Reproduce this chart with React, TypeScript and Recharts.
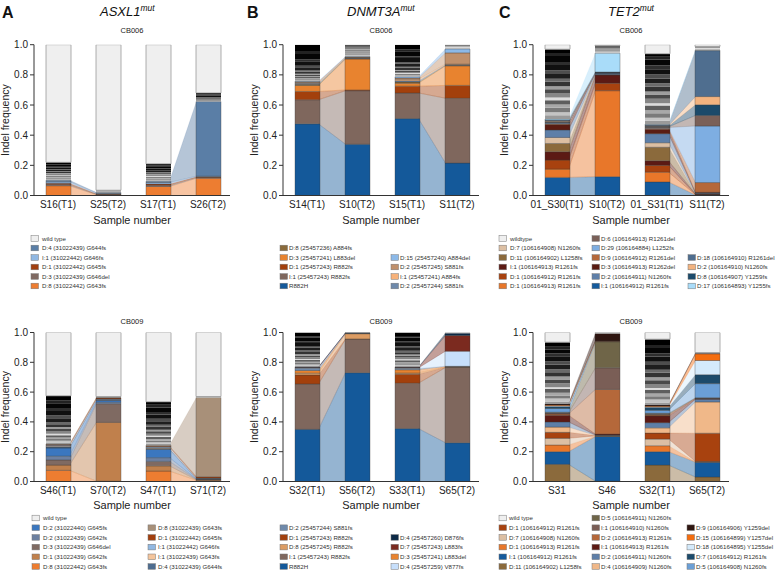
import React from "react";
import { ComposedChart, Bar, Area, XAxis, YAxis } from "recharts";

const FONT = '"Liberation Sans", Arial, Helvetica, sans-serif';

/* ---------- A: ASXL1, CB006 (stack order bottom -> top) ---------- */
const A1_SAMPLES = ["S16(T1)", "S25(T2)", "S17(T1)", "S26(T2)"];
const A1_LABELS = [
  "D:8 (31022442) G643fs",
  "D:3 (31022439) G646del",
  "D:1 (31022442) G645fs",
  "I:1  (31022442) G646fs",
  "D:4 (31022439) G644fs",
];
const A1_FREQ = [
  [0.065, 0.005, 0.06, 0.115],
  [0.008, 0.003, 0.008, 0.005],
  [0.008, 0.004, 0.008, 0.004],
  [0.01, 0.004, 0.01, 0.004],
  [0.01, 0.004, 0.008, 0.495],
];
// minor indels per sample (grey/black stripes)
const A1_OTHER = [
  [0.006, 0.004, 0.008, 0.005, 0.007, 0.003, 0.006, 0.006, 0.004, 0.007, 0.005, 0.008, 0.005, 0.009, 0.006, 0.012, 0.006, 0.012],
  [0.002, 0.001, 0.002, 0.001, 0.001, 0.001, 0.001, 0.001, 0.001, 0.001, 0.001, 0.001, 0.001],
  [0.007, 0.004, 0.007, 0.005, 0.008, 0.004, 0.006, 0.005, 0.004, 0.007, 0.005, 0.007, 0.006, 0.008, 0.006, 0.011, 0.005, 0.011],
  [0.002, 0.001, 0.002, 0.001, 0.002, 0.001, 0.002, 0.003, 0.002, 0.004, 0.002, 0.005, 0.003, 0.006, 0.004, 0.007, 0.003, 0.007],
];
const A1_COLORS = ["#ed7d31", "#7f6a62", "#a23f0e", "#91b8e2", "#5a7ea6"];
const A1_LEGEND = [
  ["wild type", "D:4 (31022439) G644fs", "I:1  (31022442) G646fs", "D:1 (31022442) G645fs", "D:3 (31022439) G646del", "D:8 (31022442) G643fs"],
];

/* ---------- B: DNMT3A, CB006 ---------- */
const B1_SAMPLES = ["S14(T1)", "S10(T2)", "S15(T1)", "S11(T2)"];
const B1_LABELS = [
  "R882H",
  "I:1 (25457243) R882fs",
  "D:1 (25457243) R882fs",
  "D:3 (25457241) L883del",
  "D:8 (25457236) A884fs",
  "D:2 (25457244) S881fs",
  "I:1 (25457241) A884fs",
  "D:2 (25457245) S881fs",
  "D:15 (25457240) A884del",
];
const B1_FREQ = [
  [0.475, 0.34, 0.51, 0.215],
  [0.16, 0.355, 0.17, 0.43],
  [0.055, 0.005, 0.045, 0.085],
  [0.04, 0.205, 0.02, 0.13],
  [0.008, 0.004, 0.008, 0.004],
  [0.006, 0.003, 0.008, 0.003],
  [0.006, 0.003, 0.01, 0.004],
  [0.004, 0.003, 0.008, 0.075],
  [0.004, 0.003, 0.008, 0.025],
];
const B1_OTHER = [
  [0.006, 0.003, 0.006, 0.004, 0.008, 0.002, 0.006, 0.01, 0.004, 0.014, 0.008, 0.022, 0.01, 0.03, 0.012, 0.035, 0.02, 0.042],
  [0.004, 0.006, 0.005, 0.008, 0.006, 0.004, 0.008, 0.004, 0.006, 0.003, 0.005, 0.002, 0.004, 0.002, 0.003, 0.002, 0.003, 0.004],
  [0.004, 0.003, 0.004, 0.003, 0.006, 0.006, 0.006, 0.01, 0.003, 0.016, 0.006, 0.022, 0.008, 0.028, 0.01, 0.035, 0.013, 0.03],
  [0.001, 0.005, 0.001, 0.003, 0.001, 0.004, 0.002, 0.002, 0.002, 0.001, 0.001, 0.001, 0.001, 0.001, 0.001, 0.001, 0.001],
];
const B1_COLORS = ["#14599a", "#7f675d", "#a3400c", "#e8832f", "#8a6a3a", "#6f8aab", "#f7b27a", "#c0906b", "#8cb9e8"];
const B1_LEGEND = [
  ["D:8 (25457236) A884fs", "D:3 (25457241) L883del", "D:1 (25457243) R882fs", "I:1 (25457243) R882fs", "R882H"],
  ["D:15 (25457240) A884del", "D:2 (25457245) S881fs", "I:1 (25457241) A884fs", "D:2 (25457244) S881fs"],
];

/* ---------- C: TET2, CB006 ---------- */
const C1_SAMPLES = ["01_S30(T1)", "S10(T2)", "01_S31(T1)", "S11(T2)"];
const C1_LABELS = [
  "I:1 (106164912) R1261fs",
  "D:1 (106164913) R1261fs",
  "D:1 (106164912) R1261fs",
  "I:1 (106164913) R1261fs",
  "D:11 (106164902) L1258fs",
  "D:7 (106164908) N1260fs",
  "D:2 (106164911) N1260fs",
  "D:3 (106164913) R1262del",
  "D:9 (106164912) R1261del",
  "D:29 (106164884) L1252fs",
  "D:6 (106164913) R1261del",
  "D:8 (106164907) Y1259fs",
  "D:2 (106164910) N1260fs",
  "D:18 (106164910) R1261del",
  "D:17 (106164893) Y1255fs",
];
const C1_FREQ = [
  [0.12, 0.125, 0.09, 0.003],
  [0.055, 0.57, 0.065, 0.002],
  [0.06, 0.05, 0.045, 0.002],
  [0.055, 0.055, 0.03, 0.003],
  [0.055, 0.001, 0.09, 0.002],
  [0.04, 0.001, 0.03, 0.002],
  [0.05, 0.01, 0.06, 0.002],
  [0.035, 0.001, 0.03, 0.005],
  [0.006, 0.001, 0.006, 0.065],
  [0.004, 0.001, 0.005, 0.375],
  [0.006, 0.001, 0.004, 0.07],
  [0.004, 0.001, 0.004, 0.07],
  [0.006, 0.001, 0.004, 0.055],
  [0.005, 0.001, 0.006, 0.305],
  [0.006, 0.125, 0.004, 0.002],
];
const C1_OTHER = [
  [0.025, 0.02, 0.03, 0.022, 0.028, 0.018, 0.03, 0.025, 0.02, 0.03, 0.02, 0.03, 0.025, 0.035, 0.02, 0.04, 0.02, 0.025],
  [0.003, 0.004, 0.003, 0.005, 0.004, 0.003, 0.004, 0.003, 0.004, 0.003, 0.002, 0.003, 0.002, 0.003, 0.001, 0.001, 0.001, 0.001],
  [0.022, 0.02, 0.03, 0.02, 0.032, 0.015, 0.03, 0.028, 0.02, 0.032, 0.022, 0.03, 0.028, 0.035, 0.025, 0.04, 0.018, 0.02],
  [0.001, 0.004, 0.001, 0.003, 0.001, 0.005, 0.001, 0.001, 0.002, 0.001, 0.001, 0.002, 0.001, 0.001],
];
const C1_COLORS = [
  "#145a9c", "#e8772a", "#a8420f", "#5c1a14", "#8b6a3c", "#dcbfa3", "#5e7fa8", "#5a1c12",
  "#b5683a", "#7eaee2", "#7a6058", "#1c4a6a", "#f3b37f", "#4f6e8f", "#a9dcf9",
];
const C1_LEGEND = [
  ["wildtype", "D:7 (106164908) N1260fs", "D:11 (106164902) L1258fs", "I:1 (106164913) R1261fs", "D:1 (106164912) R1261fs", "D:1 (106164913) R1261fs"],
  ["D:6 (106164913) R1261del", "D:29 (106164884) L1252fs", "D:9 (106164912) R1261del", "D:3 (106164913) R1262del", "D:2 (106164911) N1260fs", "I:1 (106164912) R1261fs"],
  ["D:18 (106164910) R1261del", "D:2 (106164910) N1260fs", "D:8 (106164907) Y1259fs", "D:17 (106164893) Y1255fs"],
];

/* ---------- A: ASXL1, CB009 ---------- */
const A2_SAMPLES = ["S46(T1)", "S70(T2)", "S47(T1)", "S71(T2)"];
const A2_LABELS = [
  "D:8 (31022442) G643fs",
  "D:1 (31022439) G642fs",
  "D:3 (31022439) G646del",
  "D:2 (31022439) G642fs",
  "D:2 (31022440) G645fs",
  "D:4 (31022439) G644fs",
  "I:1 (31022439) G643fs",
  "I:1 (31022442) G646fs",
  "D:1 (31022442) G645fs",
  "D:8 (31022439) G643fs",
];
const A2_FREQ = [
  [0.075, 0.002, 0.07, 0.008],
  [0.035, 0.395, 0.035, 0.003],
  [0.035, 0.125, 0.03, 0.003],
  [0.025, 0.01, 0.025, 0.002],
  [0.055, 0.012, 0.055, 0.002],
  [0.006, 0.005, 0.006, 0.002],
  [0.006, 0.002, 0.005, 0.002],
  [0.006, 0.003, 0.006, 0.002],
  [0.005, 0.006, 0.005, 0.008],
  [0.004, 0.003, 0.006, 0.532],
];
const A2_OTHER = [
  [0.01, 0.012, 0.012, 0.01, 0.014, 0.01, 0.015, 0.018, 0.012, 0.02, 0.015, 0.025, 0.018, 0.03, 0.02, 0.032, 0.02, 0.03],
  [0.001, 0, 0.001, 0, 0.001, 0, 0.001, 0, 0, 0.001, 0, 0.001, 0, 0.001],
  [0.01, 0.01, 0.012, 0.01, 0.014, 0.008, 0.014, 0.016, 0.01, 0.02, 0.014, 0.024, 0.016, 0.028, 0.018, 0.03, 0.018, 0.02],
  [0, 0.001, 0, 0.001, 0, 0.001, 0, 0.001, 0, 0.001, 0, 0, 0, 0.001],
];
const A2_COLORS = ["#ed7d31", "#c0804c", "#7f6a62", "#6d80a0", "#3b77bf", "#4e6d90", "#f4c59c", "#91b8e2", "#a23f0e", "#a89079"];
const A2_LEGEND = [
  ["wild type", "D:2 (31022440) G645fs", "D:2 (31022439) G642fs", "D:3 (31022439) G646del", "D:1 (31022439) G642fs", "D:8 (31022442) G643fs"],
  ["D:8 (31022439) G643fs", "D:1 (31022442) G645fs", "I:1 (31022442) G646fs", "I:1 (31022439) G643fs", "D:4 (31022439) G644fs"],
];

/* ---------- B: DNMT3A, CB009 ---------- */
const B2_SAMPLES = ["S32(T1)", "S56(T2)", "S33(T1)", "S65(T2)"];
const B2_LABELS = [
  "R882H",
  "I:1 (25457243) R882fs",
  "D:1 (25457243) R882fs",
  "D:8 (25457245) R882fs",
  "D:3 (25457241) L883del",
  "D:2 (25457244) S881fs",
  "D:4 (25457259) V877fs",
  "D:7 (25457243) L883fs",
  "D:4 (25457260) D876fs",
];
const B2_FREQ = [
  [0.35, 0.73, 0.355, 0.26],
  [0.305, 0.225, 0.305, 0.505],
  [0.06, 0.002, 0.06, 0.002],
  [0.012, 0.035, 0.008, 0.002],
  [0.018, 0.002, 0.022, 0.003],
  [0.015, 0.001, 0.008, 0.001],
  [0.004, 0.001, 0.004, 0.102],
  [0.003, 0.001, 0.004, 0.105],
  [0.003, 0.001, 0.003, 0.015],
];
const B2_OTHER = [
  [0.008, 0.008, 0.01, 0.008, 0.012, 0.006, 0.012, 0.012, 0.008, 0.015, 0.01, 0.018, 0.012, 0.02, 0.013, 0.022, 0.01, 0.026],
  [0, 0.001, 0, 0, 0, 0.001],
  [0.006, 0.008, 0.01, 0.008, 0.012, 0.008, 0.012, 0.012, 0.008, 0.015, 0.01, 0.018, 0.012, 0.022, 0.012, 0.024, 0.01, 0.024],
  [0, 0.001, 0, 0.001, 0, 0.001, 0, 0, 0, 0, 0, 0, 0, 0.001, 0, 0, 0, 0.001],
];
const B2_COLORS = ["#14599a", "#7f675d", "#a3400c", "#dc9c63", "#e8832f", "#6f8aab", "#c7dffb", "#7b2a1f", "#0d2a47"];
const B2_LEGEND = [
  ["D:2 (25457244) S881fs", "D:1 (25457243) R882fs", "D:8 (25457245) R882fs", "I:1 (25457243) R882fs", "R882H"],
  ["D:4 (25457260) D876fs", "D:7 (25457243) L883fs", "D:3 (25457241) L883del", "D:4 (25457259) V877fs"],
];

/* ---------- C: TET2, CB009 ---------- */
const C2_SAMPLES = ["S31", "S46", "S32(T1)", "S65(T2)"];
const C2_LABELS = [
  "D:11 (106164902) L1258fs",
  "I:1 (106164912) R1261fs",
  "D:1 (106164913) R1261fs",
  "D:7 (106164908) N1260fs",
  "D:1 (106164912) R1261fs",
  "D:4 (106164909) N1260fs",
  "D:2 (106164911) N1260fs",
  "I:1 (106164913) R1261fs",
  "D:2 (106164913) R1261fs",
  "I:1 (106164910) N1260fs",
  "D:5 (106164911) N1260fs",
  "D:5 (106164908) N1260fs",
  "D:7 (106164912) R1261fs",
  "D:18 (106164895) Y1255del",
  "D:15 (106164899) Y1257del",
  "D:9 (106164906) Y1259del",
];
const C2_FREQ = [
  [0.115, 0.002, 0.11, 0.03],
  [0.085, 0.3, 0.09, 0.1],
  [0.045, 0.002, 0.04, 0.002],
  [0.045, 0.002, 0.045, 0.002],
  [0.04, 0.002, 0.04, 0.19],
  [0.035, 0.002, 0.035, 0.21],
  [0.035, 0.002, 0.035, 0.018],
  [0.045, 0.006, 0.045, 0.003],
  [0.008, 0.3, 0.006, 0.003],
  [0.006, 0.145, 0.006, 0.002],
  [0.006, 0.175, 0.006, 0.002],
  [0.025, 0.002, 0.02, 0.095],
  [0.012, 0.001, 0.018, 0.06],
  [0.006, 0.001, 0.006, 0.095],
  [0.006, 0.001, 0.005, 0.045],
  [0.008, 0.05, 0.008, 0.004],
];
const C2_OTHER = [
  [0.015, 0.02, 0.02, 0.018, 0.025, 0.012, 0.028, 0.025, 0.02, 0.028, 0.02, 0.03, 0.022, 0.035, 0.02, 0.025, 0.02, 0.03],
  [0, 0.001, 0, 0.001, 0, 0.001, 0, 0, 0, 0, 0, 0, 0, 0, 0, 0, 0, 0.001],
  [0.015, 0.02, 0.022, 0.018, 0.025, 0.012, 0.028, 0.025, 0.02, 0.03, 0.02, 0.032, 0.022, 0.035, 0.022, 0.035, 0.02, 0.039],
  [0, 0.001, 0, 0, 0, 0.001, 0, 0, 0, 0.001, 0, 0, 0, 0.001],
];
const C2_COLORS = [
  "#8b6a3c", "#145a9c", "#e8772a", "#dcbfa3", "#a8420f", "#f0b889", "#5e7fa8", "#5c1a14",
  "#b5683a", "#7a5e56", "#6f6548", "#6b9fd6", "#1c4a6a", "#d4eafb", "#f46d0f", "#2e1510",
];
const C2_LEGEND = [
  ["wild type", "D:1 (106164912) R1261fs", "D:7 (106164908) N1260fs", "D:1 (106164913) R1261fs", "I:1 (106164912) R1261fs", "D:11 (106164902) L1258fs"],
  ["D:5 (106164911) N1260fs", "I:1 (106164910) N1260fs", "D:2 (106164913) R1261fs", "I:1 (106164913) R1261fs", "D:2 (106164911) N1260fs", "D:4 (106164909) N1260fs"],
  ["D:9 (106164906) Y1259del", "D:15 (106164899) Y1257del", "D:18 (106164895) Y1255del", "D:7 (106164912) R1261fs", "D:5 (106164908) N1260fs"],
];

/* ---------- styling / layout ---------- */
const STRIPE_COLORS = [
  "#9a9a9a", "#c4c4c4", "#7a7a7a", "#a8a8a8", "#5e5e5e", "#dcdcdc", "#868686", "#4a4a4a", "#9e9e9e",
  "#333333", "#6a6a6a", "#1e1e1e", "#4e4e4e", "#101010", "#2e2e2e", "#050505", "#222222", "#000000",
];
const WT_FILL = "#efefef";
const Y_TICKS = [0, 0.2, 0.4, 0.6, 0.8, 1.0];
const BAR_X = [0.48, 1.48, 2.48, 3.48];
const X_DOMAIN = [0, 3.92];
const HALF = 0.25;
const OVER = 0.02;
const CH_W = 240;
const CH_H = 230;

const ROWS = [
  { top: 0, plotTop: 44.7, plotBottom: 195.5, cbY: 33, sampleY: 223.5, legendY: 238.5, legendStep: 9.5 },
  { top: 285, plotTop: 332.5, plotBottom: 481.5, cbY: 323.5, sampleY: 509, legendY: 518, legendStep: 9.7 },
];

type Panel = {
  samples: string[];
  labels: string[];
  freq: number[][];
  other: number[][];
  colors: string[];
  legend: string[][];
  legendCols: { box: number; text: number; start: number }[];
  wildType: boolean;
  axisX: number;
  row: number;
  cohort: string;
};

const PANELS: Panel[] = [
  { samples: A1_SAMPLES, labels: A1_LABELS, freq: A1_FREQ, other: A1_OTHER, colors: A1_COLORS, legend: A1_LEGEND,
    legendCols: [{ box: 31, text: 42, start: 0 }], wildType: true, axisX: 34, row: 0, cohort: "CB006" },
  { samples: B1_SAMPLES, labels: B1_LABELS, freq: B1_FREQ, other: B1_OTHER, colors: B1_COLORS, legend: B1_LEGEND,
    legendCols: [{ box: 280, text: 289, start: 1 }, { box: 391, text: 400, start: 2 }], wildType: false, axisX: 283, row: 0, cohort: "CB006" },
  { samples: C1_SAMPLES, labels: C1_LABELS, freq: C1_FREQ, other: C1_OTHER, colors: C1_COLORS, legend: C1_LEGEND,
    legendCols: [{ box: 499, text: 510, start: 0 }, { box: 592, text: 601, start: 0 }, { box: 688, text: 697, start: 2 }], wildType: true, axisX: 533, row: 0, cohort: "CB006" },
  { samples: A2_SAMPLES, labels: A2_LABELS, freq: A2_FREQ, other: A2_OTHER, colors: A2_COLORS, legend: A2_LEGEND,
    legendCols: [{ box: 32, text: 43, start: 0 }, { box: 148, text: 158, start: 1 }], wildType: true, axisX: 34, row: 1, cohort: "CB009" },
  { samples: B2_SAMPLES, labels: B2_LABELS, freq: B2_FREQ, other: B2_OTHER, colors: B2_COLORS, legend: B2_LEGEND,
    legendCols: [{ box: 280, text: 289, start: 1 }, { box: 391, text: 400, start: 2 }], wildType: false, axisX: 283, row: 1, cohort: "CB009" },
  { samples: C2_SAMPLES, labels: C2_LABELS, freq: C2_FREQ, other: C2_OTHER, colors: C2_COLORS, legend: C2_LEGEND,
    legendCols: [{ box: 499, text: 509, start: 0 }, { box: 592, text: 601, start: 0 }, { box: 687, text: 696, start: 1 }], wildType: true, axisX: 533, row: 1, cohort: "CB009" },
];

const TITLES = [
  { letter: "A", gene: "ASXL1", letterX: 2, geneX: 100 },
  { letter: "B", gene: "DNMT3A", letterX: 247, geneX: 347 },
  { letter: "C", gene: "TET2", letterX: 499, geneX: 608 },
];

// stacked values for each sample
function buildBarRows(p: Panel) {
  return p.samples.map((_, i) => {
    const row: Record<string, number> = { x: BAR_X[i] };
    let sum = 0;
    p.freq.forEach((vals, k) => {
      row["m" + k] = vals[i];
      sum += vals[i];
    });
    STRIPE_COLORS.forEach((_, j) => {
      const v = p.other[i][j] ?? 0;
      row["g" + j] = v;
      sum += v;
    });
    row.rest = Math.max(0, 1 - sum);
    return row;
  });
}

// [low, high] band of every mutation at the facing edges of each T1 -> T2 pair
function buildFlowRows(p: Panel) {
  const edge = (x: number, i: number) => {
    const row: Record<string, any> = { x };
    let acc = 0;
    p.freq.forEach((vals, k) => {
      const lo = acc;
      acc += vals[i];
      row["f" + k] = [lo, acc];
    });
    return row;
  };
  return [
    edge(BAR_X[0] + HALF - OVER, 0),
    edge(BAR_X[1] - HALF + OVER, 1),
    { x: 2 },
    edge(BAR_X[2] + HALF - OVER, 2),
    edge(BAR_X[3] - HALF + OVER, 3),
  ];
}

function axes(p: Panel, visible: boolean) {
  const tick = visible ? { fontSize: 10, fill: "#222", fontFamily: FONT } : false;
  const line = visible ? { stroke: "#333", strokeWidth: 1 } : false;
  return [
    <XAxis
      key="x"
      dataKey="x"
      type="number"
      domain={X_DOMAIN}
      allowDataOverflow
      ticks={BAR_X}
      interval={0}
      tickFormatter={(v: number) => p.samples[BAR_X.indexOf(v)] ?? ""}
      tickLine={false}
      tickSize={4}
      tickMargin={1.5}
      height={20}
      axisLine={line}
      tick={tick}
    />,
    <YAxis
      key="y"
      type="number"
      domain={[0, 1]}
      allowDataOverflow
      ticks={Y_TICKS}
      tickFormatter={(v: number) => v.toFixed(1)}
      width={26}
      tickSize={4}
      tickMargin={2}
      axisLine={line}
      tickLine={visible ? { stroke: "#333" } : false}
      tick={tick}
    />,
  ];
}

function FlowChart({ p }: { p: Panel }) {
  const r = ROWS[p.row];
  const margin = { top: r.plotTop - r.top, right: 10, bottom: CH_H - (r.plotBottom - r.top) - 20, left: 8 };
  const layer: React.CSSProperties = { position: "absolute", left: 0, top: 0 };
  return (
    <div style={{ position: "absolute", left: p.axisX - 34, top: r.top, width: CH_W, height: CH_H }}>
      <div style={layer}>
        <ComposedChart width={CH_W} height={CH_H} data={buildFlowRows(p)} margin={margin}>
          {axes(p, false)}
          {p.labels.map((_, k) => (
            <Area
              key={"f" + k}
              dataKey={"f" + k}
              type="linear"
              fill={p.colors[k]}
              fillOpacity={0.45}
              stroke={p.colors[k]}
              strokeOpacity={0.35}
              strokeWidth={0.5}
              dot={false}
              activeDot={false}
              connectNulls={false}
              isAnimationActive={false}
            />
          ))}
        </ComposedChart>
      </div>
      <div style={layer}>
        <ComposedChart width={CH_W} height={CH_H} data={buildBarRows(p)} margin={margin}>
          {axes(p, true)}
          {p.labels.map((_, k) => (
            <Bar
              key={"m" + k}
              dataKey={"m" + k}
              stackId="s"
              barSize={25}
              fill={p.colors[k]}
              stroke="#3a3a3a"
              strokeWidth={0.35}
              isAnimationActive={false}
            />
          ))}
          {STRIPE_COLORS.map((c, j) => (
            <Bar key={"g" + j} dataKey={"g" + j} stackId="s" barSize={25} fill={c} isAnimationActive={false} />
          ))}
          <Bar
            dataKey="rest"
            stackId="s"
            barSize={25}
            fill={p.wildType ? WT_FILL : "#0a0a0a"}
            stroke={p.wildType ? "#9a9a9a" : "none"}
            strokeWidth={0.8}
            isAnimationActive={false}
          />
        </ComposedChart>
      </div>
    </div>
  );
}

function colorOf(p: Panel, label: string) {
  if (label.startsWith("wild")) return WT_FILL;
  const i = p.labels.indexOf(label);
  return i >= 0 ? p.colors[i] : "#999";
}

function Annotations() {
  return (
    <svg
      width={776}
      height={572}
      style={{ position: "absolute", left: 0, top: 0, pointerEvents: "none" }}
      fontFamily={FONT}
    >
      {TITLES.map((t) => (
        <g key={t.letter}>
          <text x={t.letterX} y={18} fontSize={16} fontWeight="bold" fill="#111">
            {t.letter}
          </text>
          <text x={t.geneX} y={15.5} fontSize={13} fontStyle="italic" fill="#111">
            {t.gene}
            <tspan fontSize={8.5} dy={-5}>
              mut
            </tspan>
          </text>
        </g>
      ))}
      {PANELS.map((p, pi) => {
        const r = ROWS[p.row];
        const cx = p.axisX + 98;
        const cy = (r.plotTop + r.plotBottom) / 2;
        return (
          <g key={pi}>
            <text x={cx} y={r.cbY} fontSize={7.5} textAnchor="middle" fill="#222">
              {p.cohort}
            </text>
            <text
              transform={`translate(${p.axisX - 25.5},${cy}) rotate(-90)`}
              fontSize={10.5}
              textAnchor="middle"
              fill="#222"
            >
              Indel frequency
            </text>
            <text x={cx} y={r.sampleY} fontSize={11} textAnchor="middle" fill="#222">
              Sample number
            </text>
            {p.legend.map((col, ci) =>
              col.map((label, li) => {
                const c = p.legendCols[ci];
                const y = r.legendY + (c.start + li) * r.legendStep;
                return (
                  <g key={ci + "-" + li}>
                    <rect x={c.box} y={y - 2.8} width={7.5} height={5.6} fill={colorOf(p, label)} stroke="#777" strokeWidth={0.5} />
                    <text x={c.text} y={y + 2.1} fontSize={6.15} fill="#333">
                      {label}
                    </text>
                  </g>
                );
              })
            )}
          </g>
        );
      })}
    </svg>
  );
}

export default function App() {
  return (
    <div
      style={{
        position: "absolute",
        left: 0,
        top: 0,
        width: 776,
        height: 572,
        background: "#fff",
        overflow: "hidden",
        fontFamily: FONT,
      }}
    >
      {PANELS.map((p, i) => (
        <FlowChart key={i} p={p} />
      ))}
      <Annotations />
    </div>
  );
}
